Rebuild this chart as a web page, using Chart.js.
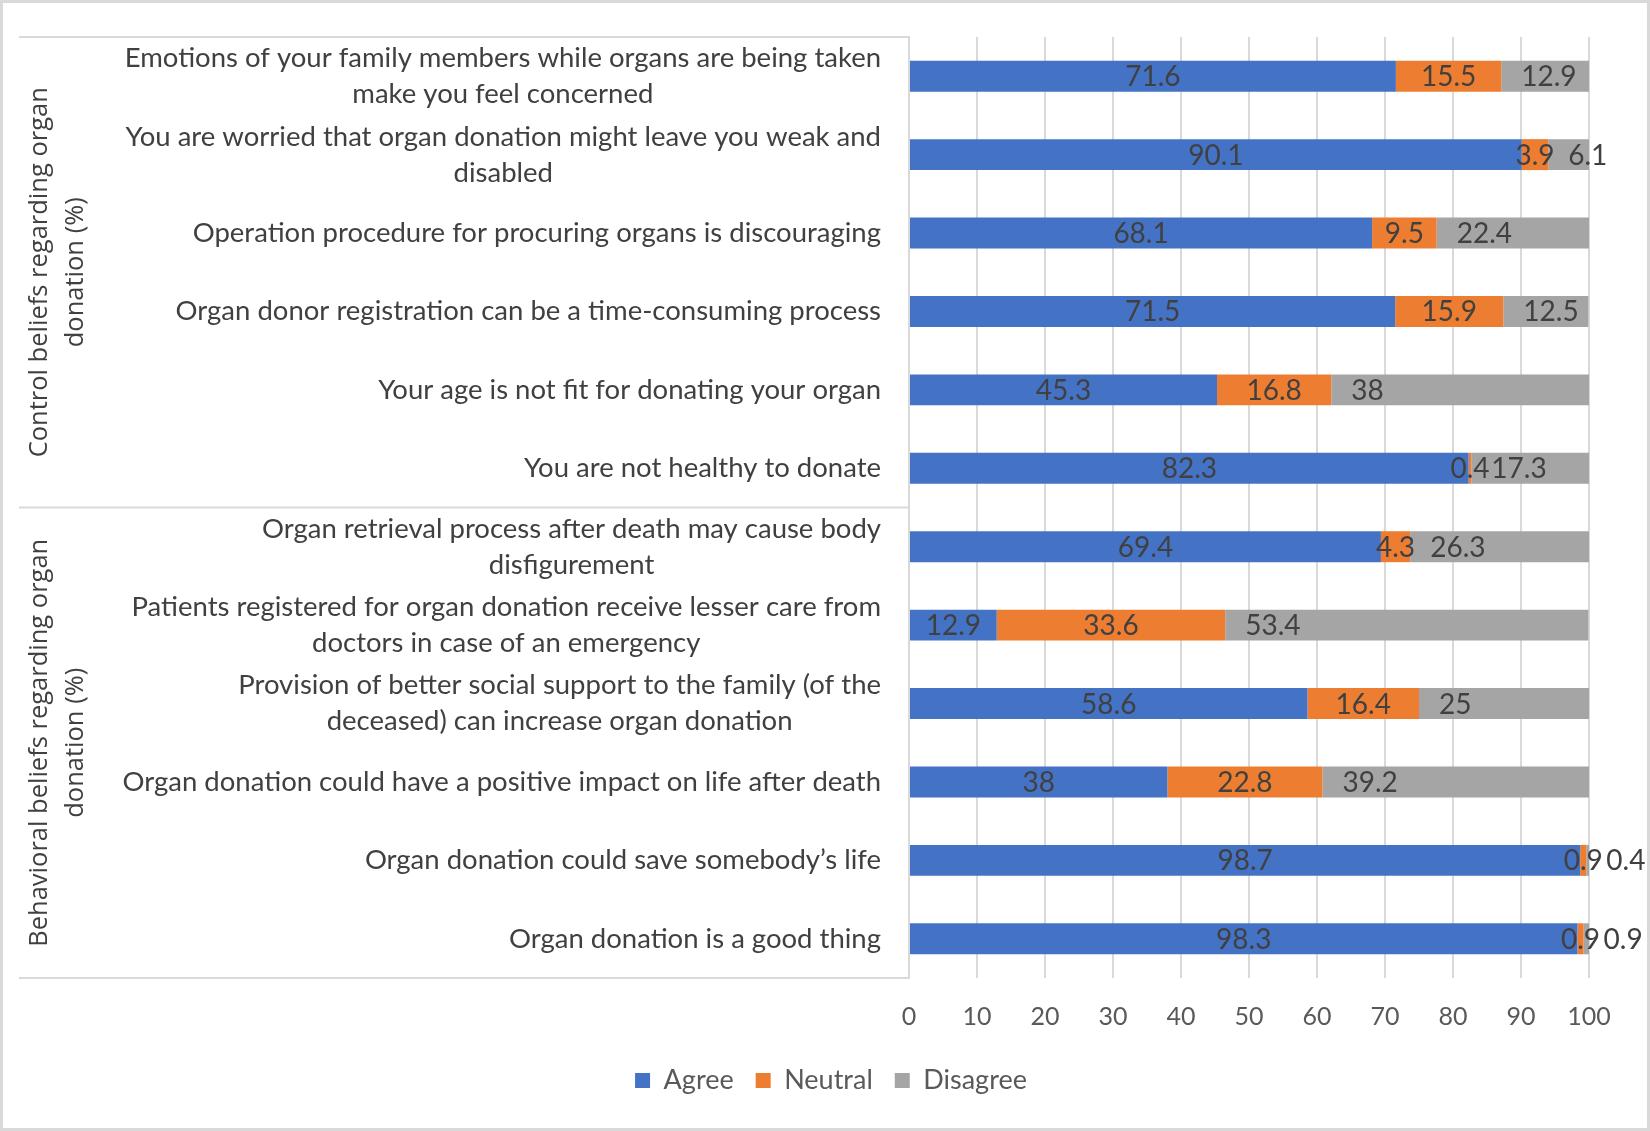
<!DOCTYPE html>
<html>
<head>
<meta charset="utf-8">
<script src="https://cdn.jsdelivr.net/npm/chart.js@4.4.1/dist/chart.umd.min.js"></script>
<style>
  html, body { margin: 0; padding: 0; background: #fff; }
  #wrap { width: 1650px; height: 1131px; }
</style>
</head>
<body>
<div id="wrap"><canvas id="chart" width="1650" height="1131"></canvas></div>
<script>
// category labels (line breaks as in the figure)
const categories = [
  ['Emotions of your family members while organs are being taken', 'make you feel concerned'],
  ['You are worried that organ donation might leave you weak and', 'disabled'],
  ['Operation procedure for procuring organs is discouraging'],
  ['Organ donor registration can be a time-consuming process'],
  ['Your age is not fit for donating your organ'],
  ['You are not healthy to donate'],
  ['Organ retrieval process after death may cause body', 'disfigurement'],
  ['Patients registered for organ donation receive lesser care from', 'doctors in case of an emergency'],
  ['Provision of better social support to the family (of the', 'deceased) can increase organ donation'],
  ['Organ donation could have a positive impact on life after death'],
  ['Organ donation could save somebody\u2019s life'],
  ['Organ donation is a good thing']
];

// outer group titles and how many categories each one spans
const groupTitles = [
  ['Control beliefs regarding organ', 'donation (%)'],
  ['Behavioral beliefs regarding organ', 'donation (%)']
];
const groupSizes = [6, 6];

const agree    = [71.6, 90.1, 68.1, 71.5, 45.3, 82.3, 69.4, 12.9, 58.6, 38, 98.7, 98.3];
const neutral  = [15.5, 3.9, 9.5, 15.9, 16.8, 0.4, 4.3, 33.6, 16.4, 22.8, 0.9, 0.9];
const disagree = [12.9, 6.1, 22.4, 12.5, 38, 17.3, 26.3, 53.4, 25, 39.2, 0.4, 0.9];

const xTicks = [0, 10, 20, 30, 40, 50, 60, 70, 80, 90, 100];

const FONT = 'Lato, "Open Sans", sans-serif';
const LINE_COLOR = '#d9d9d9';

// white background and light frame round the whole picture
const framePlugin = {
  id: 'frame',
  beforeDraw(chart) {
    const ctx = chart.ctx;
    ctx.save();
    ctx.fillStyle = '#ffffff';
    ctx.fillRect(0, 0, chart.width, chart.height);
    ctx.strokeStyle = '#d9d9d9';
    ctx.lineWidth = 3;
    ctx.strokeRect(1.5, 1.5, chart.width - 3, chart.height - 3);
    ctx.restore();
  }
};

// category labels, group titles and the group separator lines
const categoryAxisPlugin = {
  id: 'categoryAxis',
  afterDraw(chart) {
    const ctx = chart.ctx;
    const y = chart.scales.y;
    const right = y.right - 28;
    const lineH = 36;
    ctx.save();

    // inner labels: block right aligned, lines centred on each other
    ctx.font = '27.5px ' + FONT;
    ctx.fillStyle = '#404040';
    ctx.textAlign = 'center';
    ctx.textBaseline = 'middle';
    categories.forEach((lines, i) => {
      const cy = y.getPixelForValue(i);
      const widest = Math.max(...lines.map(l => ctx.measureText(l).width));
      const cx = right - widest / 2;
      lines.forEach((l, k) => {
        ctx.fillText(l, cx, cy + (k - (lines.length - 1) / 2) * lineH);
      });
    });

    // separator lines
    const half = (y.getPixelForValue(1) - y.getPixelForValue(0)) / 2;
    const bounds = [y.top];
    let idx = 0;
    groupSizes.forEach(n => {
      idx += n;
      bounds.push(y.getPixelForValue(idx - 1) + half);
    });
    ctx.strokeStyle = LINE_COLOR;
    ctx.lineWidth = 2;
    bounds.forEach(b => {
      ctx.beginPath();
      ctx.moveTo(19, b);
      ctx.lineTo(y.right, b);
      ctx.stroke();
    });

    // outer group titles, rotated
    ctx.font = '25.5px "Open Sans", sans-serif';
    ctx.fillStyle = '#404040';
    groupTitles.forEach((lines, g) => {
      const cy = (bounds[g] + bounds[g + 1]) / 2;
      ctx.save();
      ctx.translate(58, cy);
      ctx.rotate(-Math.PI / 2);
      lines.forEach((l, k) => {
        ctx.fillText(l, 0, (k - (lines.length - 1) / 2) * 36);
      });
      ctx.restore();
    });
    ctx.restore();
  }
};

// value labels: Agree / Neutral centred, Disagree at the inside base
const valueLabelPlugin = {
  id: 'valueLabels',
  afterDatasetsDraw(chart) {
    const ctx = chart.ctx;
    ctx.save();
    ctx.font = '28px ' + FONT;
    ctx.fillStyle = '#404040';
    ctx.textBaseline = 'middle';
    chart.data.datasets.forEach((ds, di) => {
      const meta = chart.getDatasetMeta(di);
      meta.data.forEach((bar, i) => {
        const v = ds.data[i];
        const left = Math.min(bar.x, bar.base);
        const rightX = Math.max(bar.x, bar.base);
        if (di === 2) {
          ctx.textAlign = 'left';
          ctx.fillText(String(v), left + 20, bar.y + 1);
        } else {
          ctx.textAlign = 'center';
          ctx.fillText(String(v), (left + rightX) / 2, bar.y + 1);
        }
      });
    });
    ctx.restore();
  }
};

new Chart(document.getElementById('chart'), {
  type: 'bar',
  data: {
    labels: categories.map(c => c.join(' ')),
    datasets: [
      { label: 'Agree', data: agree, backgroundColor: '#4472c4' },
      { label: 'Neutral', data: neutral, backgroundColor: '#ed7d31' },
      { label: 'Disagree', data: disagree, backgroundColor: '#a5a5a5' }
    ]
  },
  options: {
    indexAxis: 'y',
    responsive: false,
    animation: false,
    devicePixelRatio: 1,
    layout: { padding: { top: 37, left: 73, right: 61, bottom: 27 } },
    datasets: { bar: { barPercentage: 0.395, categoryPercentage: 1 } },
    scales: {
      x: {
        stacked: true,
        min: 0,
        max: 100,
        afterBuildTicks(scale) { scale.ticks = xTicks.map(v => ({ value: v })); },
        afterFit(scale) { scale.height = 67; },
        grid: { color: LINE_COLOR, lineWidth: 2, drawTicks: false },
        border: { display: false },
        ticks: { padding: 24, color: '#595959', font: { family: FONT, size: 25 } }
      },
      y: {
        stacked: true,
        afterFit(scale) { scale.width = 836; },
        grid: { display: false },
        border: { display: true, color: LINE_COLOR, width: 2 },
        ticks: { display: false }
      }
    },
    plugins: {
      legend: {
        position: 'bottom',
        labels: {
          boxWidth: 15,
          boxHeight: 15,
          padding: 22,
          color: '#595959',
          font: { family: FONT, size: 27 }
        }
      },
      tooltip: { enabled: false }
    }
  },
  plugins: [framePlugin, categoryAxisPlugin, valueLabelPlugin]
});
</script>
</body>
</html>
